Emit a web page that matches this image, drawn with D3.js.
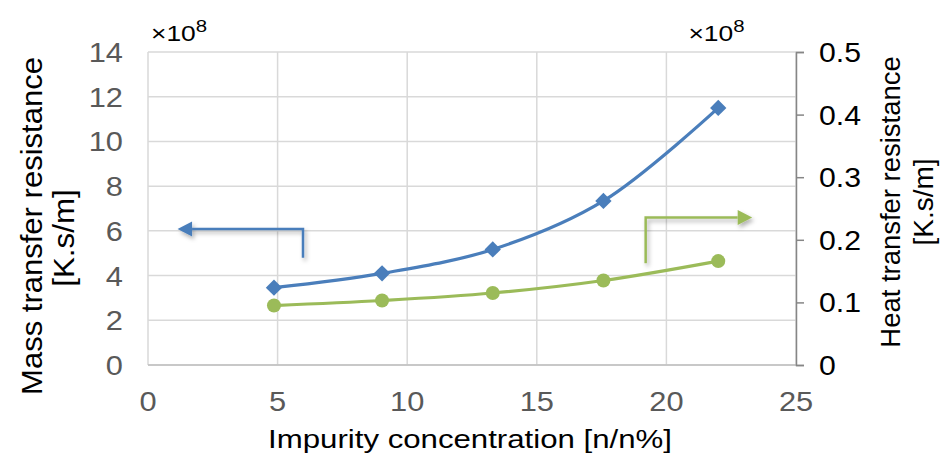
<!DOCTYPE html>
<html>
<head>
<meta charset="utf-8">
<script src="https://cdn.jsdelivr.net/npm/d3@7"></script>
<style>
  body { margin: 0; background: #fff; }
  text { font-family: "Liberation Sans", Arial, sans-serif; }
</style>
</head>
<body>
<script>
var width = 943, height = 461;
var margin = {top: 52, right: 147, bottom: 96, left: 148};

// impurity concentration [n/n%]
var concentration = [4.86, 9.03, 13.3, 17.57, 22.0];
// mass transfer resistance, x1e8 K.s/m (left axis)
var massResistance = [3.46, 4.1, 5.17, 7.34, 11.5];
// heat transfer resistance, x1e8 K.s/m (right axis)
var heatResistance = [0.095, 0.103, 0.115, 0.135, 0.166];

var xTicks = [0, 5, 10, 15, 20, 25];
var leftTicks = [0, 2, 4, 6, 8, 10, 12, 14];
var rightTicks = [0, 0.1, 0.2, 0.3, 0.4, 0.5];

var svg = d3.select("body").append("svg")
    .attr("width", width)
    .attr("height", height);

var defs = svg.append("defs");
defs.append("filter").attr("id", "shadow")
    .attr("x", "-20%").attr("y", "-50%").attr("width", "140%").attr("height", "200%")
  .append("feDropShadow")
    .attr("dx", 2).attr("dy", 3).attr("stdDeviation", 2)
    .attr("flood-color", "#000").attr("flood-opacity", 0.3);

var x = d3.scaleLinear().domain([0, 25]).range([margin.left, width - margin.right]);
var yL = d3.scaleLinear().domain([0, 14]).range([height - margin.bottom, margin.top]);
var yR = d3.scaleLinear().domain([0, 0.5]).range([height - margin.bottom, margin.top]);

// text stretched along its reading direction, like the original
function stretched(g, px, py, str, size, sx, anchor, fill, rotate) {
  return g.append("text")
    .attr("transform", "translate(" + px + "," + py + ")" + (rotate ? " rotate(" + rotate + ")" : "") + " scale(" + sx + ",1)")
    .attr("text-anchor", anchor).attr("font-size", size).attr("fill", fill)
    .text(str);
}

// grid
svg.append("g").selectAll("line").data(leftTicks).join("line")
    .attr("x1", x(0)).attr("x2", x(25))
    .attr("y1", d => yL(d)).attr("y2", d => yL(d))
    .attr("stroke", "#d9d9d9").attr("stroke-width", 1.5);
svg.append("g").selectAll("line").data(xTicks).join("line")
    .attr("x1", d => x(d)).attr("x2", d => x(d))
    .attr("y1", yL(0)).attr("y2", yL(14))
    .attr("stroke", "#d9d9d9").attr("stroke-width", 1.5);

// bottom axis line
svg.append("line")
    .attr("x1", x(0)).attr("x2", x(25)).attr("y1", yL(0)).attr("y2", yL(0))
    .attr("stroke", "#bfbfbf").attr("stroke-width", 1.5);

var labels = svg.append("g");
// left tick labels
leftTicks.forEach(d => stretched(labels, x(0) - 25, yL(d) + 10, d, 28, 1.1, "end", "#595959"));
// bottom tick labels
xTicks.forEach(d => stretched(labels, x(d), 410.5, d, 28, 1.1, "middle", "#595959"));

// right axis
var rightAxis = d3.axisRight(yR).tickValues(rightTicks).tickSize(8).tickFormat("");
var gR = svg.append("g").attr("transform", "translate(" + x(25) + ",0)").call(rightAxis);
gR.select(".domain").attr("stroke", "#868686").attr("stroke-width", 1.5);
gR.selectAll(".tick line").attr("stroke", "#868686").attr("stroke-width", 1.5);
rightTicks.forEach(d => stretched(labels, x(25) + 23, yR(d) + 10, d === 0 ? "0" : d3.format(".1f")(d), 27, 1.12, "start", "#000"));

// multiplier labels
function multiplier(xpos) {
  var t = svg.append("text")
    .attr("transform", "translate(" + xpos + ",41) scale(1.2,1)")
    .attr("font-size", 22).attr("fill", "#000");
  t.append("tspan").text("×10");
  t.append("tspan").attr("font-size", 17).attr("dy", -9).text("8");
}
multiplier(x(0) + 3);
multiplier(x(20.85));

// series lines
var pts = concentration.map((c, i) => ({c: c, m: massResistance[i], h: heatResistance[i]}));
var line = d3.line().curve(d3.curveCatmullRom.alpha(0.5));

svg.append("path")
    .attr("d", line(pts.map(d => [x(d.c), yL(d.m)])))
    .attr("fill", "none").attr("stroke", "#4a7ebb").attr("stroke-width", 3.2);
svg.append("path")
    .attr("d", line(pts.map(d => [x(d.c), yR(d.h)])))
    .attr("fill", "none").attr("stroke", "#9bbb59").attr("stroke-width", 3.2);

// markers
svg.append("g").selectAll("path").data(pts).join("path")
    .attr("transform", d => "translate(" + x(d.c) + "," + yL(d.m) + ")")
    .attr("d", d3.symbol().type(d3.symbolDiamond2).size(170))
    .attr("fill", "#4a7ebb");
svg.append("g").selectAll("circle").data(pts).join("circle")
    .attr("cx", d => x(d.c)).attr("cy", d => yR(d.h)).attr("r", 7)
    .attr("fill", "#9bbb59");

// arrows indicating the axis of each series
var blueArrow = [[5.98, 4.8], [5.98, 6.08], [1.7, 6.08]];
var greenArrow = [[19.2, 4.55], [19.2, 6.6], [22.75, 6.6]];
function arrow(pointsData, color, dir) {
  var p = pointsData.map(d => [x(d[0]), yL(d[1])]);
  var g = svg.append("g").attr("filter", "url(#shadow)");
  g.append("path").attr("d", d3.line()(p))
    .attr("fill", "none").attr("stroke", color).attr("stroke-width", 2.5);
  var tip = p[p.length - 1];
  var len = 14.5, half = 7.5;
  var tri = [[tip[0] + dir * len, tip[1]], [tip[0], tip[1] - half], [tip[0], tip[1] + half]];
  g.append("path").attr("d", d3.line()(tri) + "Z").attr("fill", color);
}
arrow(blueArrow, "#4a7ebb", -1);
arrow(greenArrow, "#9bbb59", 1);

// axis titles
stretched(svg, 470, 448, "Impurity concentration [n/n%]", 26, 1.2, "middle", "#000");

stretched(svg, 42, 226, "Mass transfer resistance", 29, 1.07, "middle", "#000", -90);
stretched(svg, 74, 238, "[K.s/m]", 29, 1.08, "middle", "#000", -90);

stretched(svg, 900, 202, "Heat transfer resistance", 28, 0.98, "middle", "#000", -90);
stretched(svg, 933, 202, "[K.s/m]", 28, 1.0, "middle", "#000", -90);
</script>
</body>
</html>
